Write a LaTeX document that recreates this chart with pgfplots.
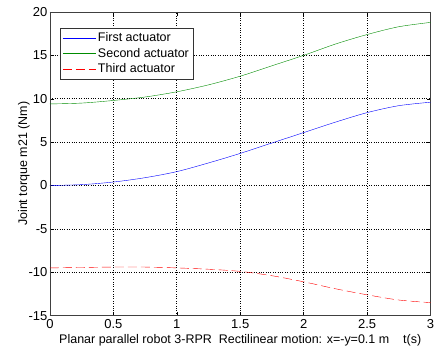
\documentclass[border=0pt]{standalone}
\usepackage{pgfplots}
\pgfplotsset{compat=1.18}
\usepackage{fontspec}
\setmainfont{Liberation Sans}
\begin{document}
\begin{tikzpicture}
\begin{axis}[
  scale only axis,
  width=381pt, height=304pt,
  xmin=0, xmax=3, ymin=-15, ymax=20,
  xtick={0,0.5,...,3}, ytick={-15,-10,...,20},
  xticklabels={0,0.5,1,1.5,2,2.5,3},
  tick align=inside,
  major tick length=4pt,
  tick style={black, thin},
  grid=major,
  major grid style={black, dotted, line width=0.6pt},
  axis line style={black!75, line width=0.6pt},
  /pgf/number format/assume math mode=true,
  font=\fontsize{13}{15}\selectfont,
  tick label style={font=\fontsize{13}{15}\selectfont},
  xticklabel style={yshift=0pt},
  yticklabel style={xshift=1pt},
  xlabel={Planar parallel robot 3-RPR\ \ Rectilinear motion: x=-y=0.1 m\ \ \ \ t(s)},
  ylabel={Joint torque m21 (Nm)},
  xlabel style={font=\fontsize{12.5}{14}\selectfont, at={(axis description cs:0.5,0)}, anchor=center, yshift=-25pt},
  ylabel style={font=\fontsize{12.5}{14}\selectfont, yshift=-8pt},
  legend style={at={(0,1)}, anchor=north west, xshift=10pt, yshift=-16pt,
    draw=black!80, font=\fontsize{12.5}{14}\selectfont, row sep=1pt,
    inner sep=2.5pt},
  legend cell align=left,
  legend image code/.code={\draw[#1] (0pt,0pt) -- (33pt,0pt);},
]
\addplot[blue, thin, smooth] coordinates {
(0,0) (0.25,0.1) (0.5,0.4) (0.75,0.9) (1,1.6) (1.25,2.6) (1.5,3.7) (1.75,4.9)
(2,6.1) (2.25,7.3) (2.5,8.4) (2.75,9.2) (3,9.6)};
\addlegendentry{First actuator}
\addplot[green!55!black, thin, smooth] coordinates {
(0,9.4) (0.25,9.5) (0.5,9.8) (0.75,10.2) (1,10.8) (1.25,11.6) (1.5,12.6) (1.75,13.8)
(2,15.0) (2.25,16.3) (2.5,17.4) (2.75,18.3) (3,18.8)};
\addlegendentry{Second actuator}
\addplot[red, thin, smooth, dash pattern=on 9pt off 4pt] coordinates {
(0,-9.5) (0.25,-9.45) (0.5,-9.4) (0.75,-9.4) (1,-9.5) (1.25,-9.65) (1.5,-9.9) (1.75,-10.4)
(2,-11.1) (2.25,-11.9) (2.5,-12.6) (2.75,-13.2) (3,-13.5)};
\addlegendentry{Third actuator}
\end{axis}
\pgfresetboundingbox
\path[use as bounding box] ([shift={(-50pt,-38pt)}]current axis.south west) rectangle ([shift={(4.5pt,12pt)}]current axis.north east);
\end{tikzpicture}
\end{document}
